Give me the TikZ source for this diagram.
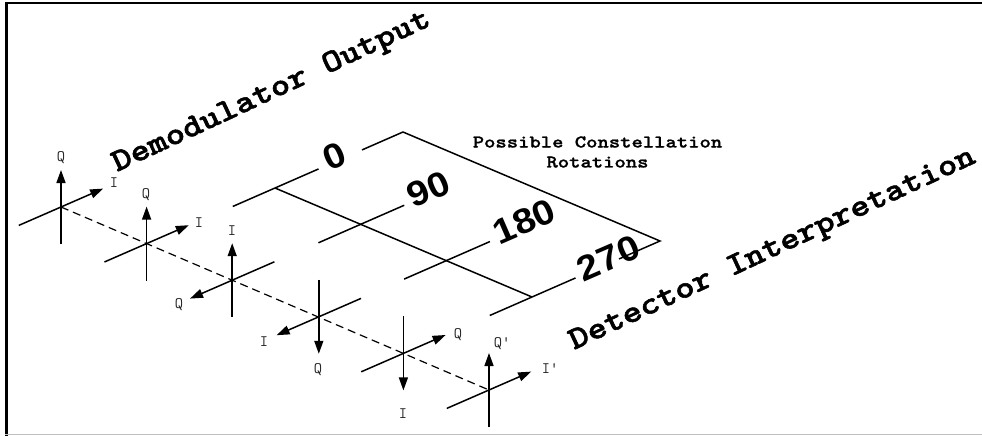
\documentclass[tikz,border=0pt]{standalone}
\usepackage{fontspec}
\setmainfont{Liberation Sans}
\newfontfamily\courb{lmmonolt10-bold.otf}[FakeBold=1.6]
\newfontfamily\court{lmmonolt10-bold.otf}[FakeBold=1.0]
\usetikzlibrary{arrows.meta,calc}
\begin{document}
\begin{tikzpicture}[x=1pt,y=-1pt,
  ax/.style={line width=1.5pt},
  arr/.style={ax,-{Triangle[length=13pt,width=9pt]}},
  dashline/.style={line width=1.2pt,dash pattern=on 8pt off 5pt},
  lab/.style={font=\ttfamily\fontsize{16}{16}\selectfont,inner sep=0pt,text=black!85},
  big/.style={font=\courb\fontsize{32}{32}\selectfont,inner sep=0pt,rotate=25,xscale=1.15,anchor=base west},
  deg/.style={font=\bfseries\fontsize{35}{35}\selectfont,inner sep=0pt,rotate=23.5,xscale=1.1,anchor=mid west},
  title/.style={font=\court\fontsize{18}{20}\selectfont,inner sep=0pt,align=center,xscale=1.2},
]
\useasboundingbox (0,0) rectangle (982,436);
% frame
\draw[line width=2.5pt] (6.5,436) -- (6.5,3) -- (982,3);
\draw[black!25,line width=1.5pt] (5,434.5) -- (982,434.5);

% direction vectors
\coordinate (d) at (42.2,-18.4);
\coordinate (v) at (0,-37);
\coordinate (b) at (128,-56);
\coordinate (up) at (2,4);

% crosshair centres
\coordinate (c1) at (61,207);
\coordinate (c2) at (146.6,243.6);
\coordinate (c3) at (232.2,280.2);
\coordinate (c4) at (318.8,316.8);
\coordinate (c5) at (403.4,353.4);
\coordinate (c6) at (489,390);

\draw[dashline] (c1) -- (c6);

% 1
\draw[arr] ($(c1)-(v)$) -- ($(c1)+(v)$);
\draw[arr] ($(c1)-(d)$) -- ($(c1)+(d)$);
\node[lab] (q1) at (61,158) {Q};
\node[lab] (i1) at (114,183) {I};
% 2
\draw[arr] ($(c2)-(v)$) -- ($(c2)+(v)$);
\draw[arr] ($(c2)-(d)$) -- ($(c2)+(d)$);
\node[lab] (q2) at (146,195) {Q};
\node[lab] (i2) at (199,223) {I};
% 3
\draw[arr] ($(c3)-(v)$) -- ($(c3)+(v)$);
\draw[arr] ($(c3)+(d)$) -- ($(c3)-(d)$);
\node[lab] (i3) at (232,231) {I};
\node[lab] (q3) at (179,305) {Q};
% 4
\draw[arr] ($(c4)+(v)$) -- ($(c4)-(v)$);
\draw[arr] ($(c4)+(d)$) -- ($(c4)-(d)$);
\node[lab] (i4) at (264,342) {I};
\node[lab] (q4) at (318,370) {Q};
% 5
\draw[arr] ($(c5)+(v)$) -- ($(c5)-(v)$);
\draw[arr] ($(c5)-(d)$) -- ($(c5)+(d)$);
\node[lab] (q5) at (458,335) {Q};
\node[lab] (i5) at (403,414) {I};
% 6
\draw[arr] ($(c6)-(v)$) -- ($(c6)+(v)$);
\draw[arr] ($(c6)-(d)$) -- ($(c6)+(d)$);
\node[lab] (q6) at (502,344) {Q'};
\node[lab] (i6) at (550,369) {I'};

% rotation grid
\coordinate (J0) at (275,188);
\coordinate (J1) at (360.7,224.3);
\coordinate (J2) at (446.4,260.6);
\coordinate (J3) at (532,297);
\draw[ax] (J0) -- (J3);
\foreach \j in {J0,J1,J2,J3}{
  \draw[ax] ($(\j)-0.33*(b)$) -- ($(\j)+0.34*(b)$);
}
\draw[ax] ($(J0)+0.68*(b)$) -- ($(J0)+(b)$) -- ($(J3)+(b)$) -- ($(J3)+0.68*(b)$);
\node[deg] (r0) at ($(J0)+0.40*(b)+(up)$) {0};
\node[deg] (r90) at ($(J1)+0.39*(b)+(up)$) {90};
\node[deg] (r180) at ($(J2)+0.39*(b)+(up)$) {180};
\node[deg] (r270) at ($(J3)+0.38*(b)+(up)$) {270};

\node[title] (poss) at (597.5,152) {Possible Constellation\\Rotations};

\node[big] (dem) at (117,172) {Demodulator Output};
\node[big] (det) at (574,350) {Detector Interpretation};
\end{tikzpicture}
\end{document}
